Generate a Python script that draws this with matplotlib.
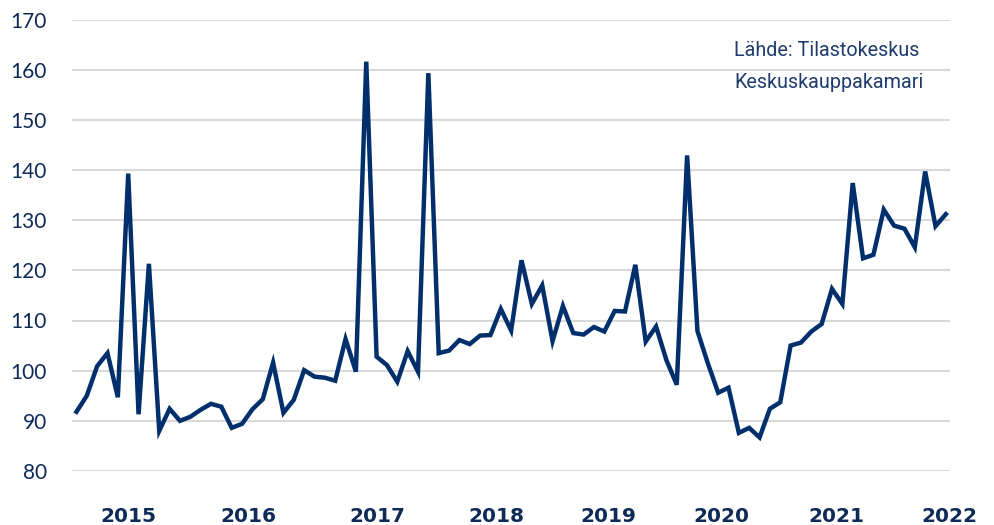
import matplotlib
matplotlib.use("Agg")
import matplotlib.pyplot as plt
import numpy as np

values = [91.8, 95.0, 100.9, 103.5, 94.7, 139.3, 91.3, 121.3, 88.0, 92.4,
          90.0, 90.8, 92.2, 93.4, 92.8, 88.6, 89.4, 92.3, 94.3, 101.6,
          91.6, 94.2, 100.1, 98.8, 98.6, 98.0, 106.3, 99.8, 161.6, 102.8,
          101.1, 97.8, 103.9, 99.8, 159.3, 103.5, 104.0, 106.1, 105.3, 107.0,
          107.1, 112.3, 108.0, 122.0, 113.3, 117.0, 105.9, 112.9, 107.5, 107.2,
          108.7, 107.8, 111.9, 111.8, 121.1, 105.8, 108.8, 102.1, 97.2, 142.9,
          107.9, 101.5, 95.6, 96.6, 87.6, 88.6, 86.7, 92.4, 93.7, 105.0,
          105.6, 107.8, 109.3, 116.3, 113.3, 137.4, 122.4, 123.1, 132.1, 128.9,
          128.3, 124.6, 139.7, 128.8, 131.2]
year_labels = ["2015", "2016", "2017", "2018", "2019", "2020", "2021", "2022"]
year_pos = [5.0, 16.6, 29.05, 40.6, 51.4, 62.3, 73.4, 84.3]
y_ticks = [80, 90, 100, 110, 120, 130, 140, 150, 160, 170]
source_lines = ["Lähde: Tilastokeskus", "Keskuskauppakamari"]

W, H = 994, 525
fig = plt.figure(figsize=(W / 100, H / 100), dpi=100)
ax = fig.add_axes([72 / W, (H - 471) / H, (950 - 72) / W, (471 - 19.5) / H])

navy = "#002F6C"
text_col = "#0E2A57"

x = np.arange(len(values))
ax.plot(x, values, color=navy, lw=3.2, solid_joinstyle="miter", clip_on=False, zorder=3)

ax.set_xlim(-0.43, 84.4)
ax.set_ylim(80, 170)
ax.set_yticks(y_ticks)
ax.grid(axis="y", color="#D9D9D9", lw=1.5, zorder=0)
ax.set_axisbelow(True)
for s in ax.spines.values():
    s.set_visible(False)

ax.tick_params(axis="y", length=0, pad=18, labelsize=15, labelcolor=text_col)
for lab in ax.get_yticklabels():
    lab.set_fontfamily(["Lato", "DejaVu Sans"])

ax.set_xticks(year_pos)
ax.set_xticklabels(year_labels)
ax.tick_params(axis="x", length=0, pad=26, labelsize=14.5, labelcolor=text_col)
for lab in ax.get_xticklabels():
    lab.set_fontfamily(["DejaVu Sans"])
    lab.set_fontweight("bold")

fig.text(734 / W, 1 - 50 / H, source_lines[0], ha="left", va="center",
         fontsize=14.2, color="#1F3C6E", family=["Roboto", "DejaVu Sans"])
fig.text(734 / W, 1 - 82 / H, source_lines[1], ha="left", va="center",
         fontsize=14.2, color="#1F3C6E", family=["Roboto", "DejaVu Sans"])

fig.savefig("out.png", dpi=100)
